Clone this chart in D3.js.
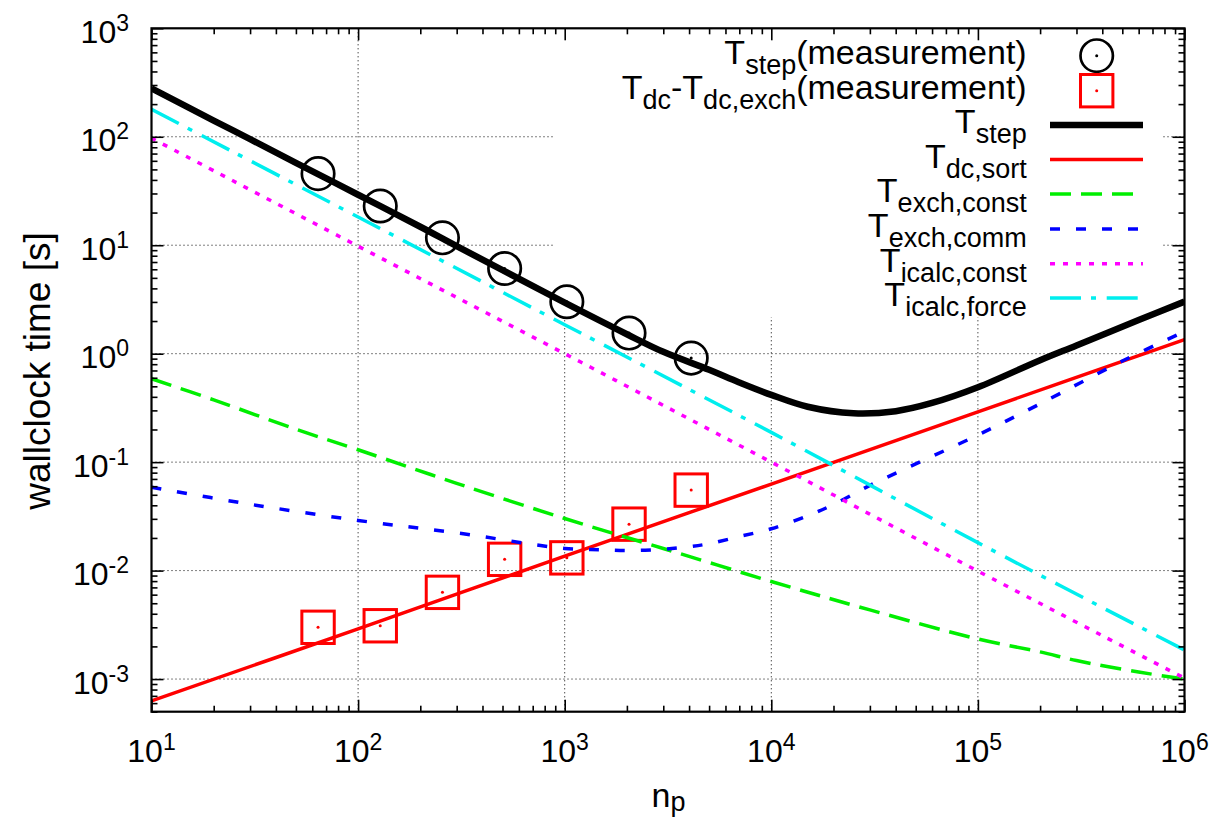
<!DOCTYPE html>
<html>
<head>
<meta charset="utf-8">
<script src="https://cdn.jsdelivr.net/npm/d3@7"></script>
<style>
  body { margin: 0; background: #fff; }
  text { font-family: "Liberation Sans", Arial, Helvetica, sans-serif; fill: #000; }
</style>
</head>
<body>
<svg id="chart" width="1213" height="822"></svg>
<script>
// values (n_p -> wallclock time in s)
const stepN = [10, 20, 30, 50, 100, 200, 300, 500, 1000, 2000, 3000, 5000, 7000, 10000, 15000, 25000, 40000, 60000, 100000, 200000, 300000, 600000, 1000000];
const stepT = [280, 141, 95, 57.5, 29.2, 14.8, 9.8, 5.9, 2.95, 1.51, 1.04, 0.71, 0.543, 0.417, 0.324, 0.282, 0.295, 0.351, 0.49, 0.87, 1.19, 2.04, 3.02];

const sortN = [10, 100, 1000, 10000, 100000, 1000000];
const sortT = [6.3e-4, 2.9e-3, 0.0136, 0.0628, 0.291, 1.35];

const exchConstN = [10, 20, 50, 100, 300, 1000, 3000, 10000, 30000, 100000, 200000, 300000, 600000, 1000000];
const exchConstT = [0.587, 0.375, 0.201, 0.130, 0.0638, 0.0302, 0.0160, 0.00794, 0.00434, 0.00234, 0.00178, 0.00148, 0.00116, 0.00100];

const exchCommN = [10, 30, 100, 300, 1000, 1500, 2000, 3000, 4000, 5000, 7000, 10000, 15000, 20000, 30000, 50000, 100000, 200000, 500000, 1000000];
const exchCommT = [0.0587, 0.0409, 0.029, 0.0223, 0.0160, 0.01556, 0.01528, 0.01574, 0.0166, 0.0177, 0.0206, 0.0243, 0.032, 0.0407, 0.061, 0.0962, 0.178, 0.345, 0.855, 1.6];

const icalcConstN = [10, 100, 1000, 10000, 100000, 1000000];
const icalcConstT = [97, 9.8, 1.0, 0.100, 0.0099, 0.00102];

const icalcForceN = [10, 100, 1000, 10000, 100000, 1000000];
const icalcForceT = [179, 18.2, 1.85, 0.188, 0.0181, 0.00185];

// measurements
const measN = [64, 128, 256, 512, 1024, 2048, 4096];
const measStep = [45.7, 23.0, 11.7, 6.1, 3.01, 1.55, 0.91];
const measDc = [0.0030, 0.0031, 0.0063, 0.0127, 0.0131, 0.0268, 0.0552];

const xTicks = [1, 2, 3, 4, 5, 6];
const yTicks = [-3, -2, -1, 0, 1, 2, 3];

const svg = d3.select("#chart");
const pLeft = 151.5, pRight = 1184.5, pTop = 28.3, pBottom = 711.7;

const x = d3.scaleLog().domain([10, 1e6]).range([pLeft, pRight]);
const y = d3.scaleLog().domain([5e-4, 1e3]).range([pBottom, pTop]);

svg.append("rect").attr("width", 1213).attr("height", 822).attr("fill", "#fff");

svg.append("defs").append("clipPath").attr("id", "plot-clip")
  .append("rect").attr("x", pLeft).attr("y", pTop)
  .attr("width", pRight - pLeft).attr("height", pBottom - pTop);

// grid
const grid = svg.append("g").attr("stroke", "#000").attr("stroke-width", 1)
  .attr("stroke-dasharray", "1,3");
xTicks.filter(e => e > 1 && e < 6).forEach(e => {
  grid.append("line").attr("x1", x(10 ** e)).attr("x2", x(10 ** e))
    .attr("y1", pTop).attr("y2", pBottom);
});
yTicks.filter(e => e < 3).forEach(e => {
  grid.append("line").attr("x1", pLeft).attr("x2", pRight)
    .attr("y1", y(10 ** e)).attr("y2", y(10 ** e));
});

// opaque key area
svg.append("rect").attr("x", 553).attr("y", pTop + 1).attr("width", 1163 - 553)
  .attr("height", 316 - pTop).attr("fill", "#fff");

// curves
const plot = svg.append("g").attr("clip-path", "url(#plot-clip)");
const line = d3.line().x(d => x(d[0])).y(d => y(d[1])).curve(d3.curveCatmullRom.alpha(0.5));

const series = [
  { n: stepN, t: stepT, color: "#000", width: 6.5, dash: null },
  { n: sortN, t: sortT, color: "#ff0000", width: 3.5, dash: null },
  { n: exchConstN, t: exchConstT, color: "#00ee00", width: 3.5, dash: "21,10" },
  { n: exchCommN, t: exchCommT, color: "#0000ff", width: 3.5, dash: "10,16" },
  { n: icalcConstN, t: icalcConstT, color: "#ff00ff", width: 3.5, dash: "5,8" },
  { n: icalcForceN, t: icalcForceT, color: "#00eeee", width: 3.5, dash: "31,10,5,10.7" }
];

// measurement markers (drawn first, as in the key order)
plot.selectAll("circle.meas").data(measN).enter().append("circle")
  .attr("class", "meas").attr("cx", d => x(d)).attr("cy", (d, i) => y(measStep[i]))
  .attr("r", 16.2).attr("fill", "none").attr("stroke", "#000").attr("stroke-width", 2.7);
plot.selectAll("circle.measdot").data(measN).enter().append("circle")
  .attr("class", "measdot").attr("cx", d => x(d)).attr("cy", (d, i) => y(measStep[i]))
  .attr("r", 1.5).attr("fill", "#000");
plot.selectAll("rect.meas").data(measN).enter().append("rect")
  .attr("class", "meas").attr("x", d => x(d) - 16.2).attr("y", (d, i) => y(measDc[i]) - 16.2)
  .attr("width", 32.4).attr("height", 32.4)
  .attr("fill", "none").attr("stroke", "#ff0000").attr("stroke-width", 3);
plot.selectAll("circle.dcdot").data(measN).enter().append("circle")
  .attr("class", "dcdot").attr("cx", d => x(d)).attr("cy", (d, i) => y(measDc[i]))
  .attr("r", 1.5).attr("fill", "#ff0000");

series.forEach(s => {
  plot.append("path")
    .datum(s.n.map((n, i) => [n, s.t[i]]))
    .attr("d", line)
    .attr("fill", "none")
    .attr("stroke", s.color)
    .attr("stroke-width", s.width)
    .attr("stroke-dasharray", s.dash);
});

// axes (ticks inward on all four sides)
function minors(lo, hi) {
  const out = [];
  for (let e = lo; e < hi; e++) for (let k = 2; k <= 9; k++) out.push(k * 10 ** e);
  return out;
}
const xMajor = xTicks.map(e => 10 ** e);
const yMajor = yTicks.map(e => 10 ** e);
const xMinor = minors(1, 6);
const yMinor = minors(-4, 3).filter(v => v >= 5e-4 && v <= 1e3);

function addAxis(axisFn, scale, vals, size, transform) {
  const g = svg.append("g").attr("transform", transform)
    .call(axisFn(scale).tickValues(vals).tickSizeInner(-size).tickSizeOuter(0).tickFormat(""));
  g.select(".domain").remove();
  g.selectAll("line").attr("stroke", "#000").attr("stroke-width", 1.6);
}
[[xMajor, 12], [xMinor, 6]].forEach(([v, s]) => {
  addAxis(d3.axisBottom, x, v, s, `translate(0,${pBottom})`);
  addAxis(d3.axisTop, x, v, s, `translate(0,${pTop})`);
});
[[yMajor, 12], [yMinor, 6]].forEach(([v, s]) => {
  addAxis(d3.axisLeft, y, v, s, `translate(${pLeft},0)`);
  addAxis(d3.axisRight, y, v, s, `translate(${pRight},0)`);
});

svg.append("rect").attr("x", pLeft).attr("y", pTop)
  .attr("width", pRight - pLeft).attr("height", pBottom - pTop)
  .attr("fill", "none").attr("stroke", "#000").attr("stroke-width", 2.2);

// enhanced text helper: parts = [[text, "sub"|"sup"|undefined], ...]
function rich(textSel, parts, size, small, subShift, supShift) {
  let shift = 0;
  parts.forEach(([txt, mode]) => {
    const target = mode === "sub" ? subShift : mode === "sup" ? -supShift : 0;
    textSel.append("tspan")
      .attr("dy", target - shift)
      .style("font-size", (mode ? small : size) + "px")
      .text(txt);
    shift = target;
  });
}

// tick labels
xTicks.forEach(e => {
  const t = svg.append("text").attr("x", x(10 ** e)).attr("y", 761.7)
    .attr("text-anchor", "middle");
  rich(t, [["10"], [String(e), "sup"]], 32, 23, 0, 12);
});
yTicks.forEach(e => {
  const t = svg.append("text").attr("x", 129).attr("y", y(10 ** e) + 14.5)
    .attr("text-anchor", "end");
  rich(t, [["10"], [String(e), "sup"]], 32, 23, 0, 12);
});

// axis titles
const xt = svg.append("text").attr("x", 668.5).attr("y", 806.7).attr("text-anchor", "middle");
rich(xt, [["n"], ["p", "sub"]], 34, 27, 4, 0);

svg.append("text")
  .attr("transform", "translate(50,371) rotate(-90)")
  .attr("text-anchor", "middle")
  .style("font-size", "37px")
  .text("wallclock time [s]");

// key
const keyRows = [55.7, 90.7, 125, 159.5, 194, 229, 263.7, 298];
const keyLabels = [
  [["T"], ["step", "sub"], ["(measurement)"]],
  [["T"], ["dc", "sub"], ["-T"], ["dc,exch", "sub"], ["(measurement)"]],
  [["T"], ["step", "sub"]],
  [["T"], ["dc,sort", "sub"]],
  [["T"], ["exch,const", "sub"]],
  [["T"], ["exch,comm", "sub"]],
  [["T"], ["icalc,const", "sub"]],
  [["T"], ["icalc,force", "sub"]]
];
const key = svg.append("g");
keyLabels.forEach((parts, i) => {
  const t = key.append("text").attr("x", 1026.7).attr("y", keyRows[i] + 8)
    .attr("text-anchor", "end");
  rich(t, parts, 34, 27, 10, 0);
});
const kx = 1096.7;
key.append("circle").attr("cx", kx).attr("cy", keyRows[0]).attr("r", 16.2)
  .attr("fill", "none").attr("stroke", "#000").attr("stroke-width", 2.7);
key.append("circle").attr("cx", kx).attr("cy", keyRows[0]).attr("r", 1.5).attr("fill", "#000");
key.append("rect").attr("x", kx - 16.2).attr("y", keyRows[1] - 16.2)
  .attr("width", 32.4).attr("height", 32.4)
  .attr("fill", "none").attr("stroke", "#ff0000").attr("stroke-width", 3);
key.append("circle").attr("cx", kx).attr("cy", keyRows[1]).attr("r", 1.5).attr("fill", "#ff0000");
series.forEach((s, i) => {
  key.append("line").attr("x1", 1050).attr("x2", 1143)
    .attr("y1", keyRows[i + 2]).attr("y2", keyRows[i + 2])
    .attr("stroke", s.color).attr("stroke-width", s.width)
    .attr("stroke-dasharray", s.dash);
});
</script>
</body>
</html>
